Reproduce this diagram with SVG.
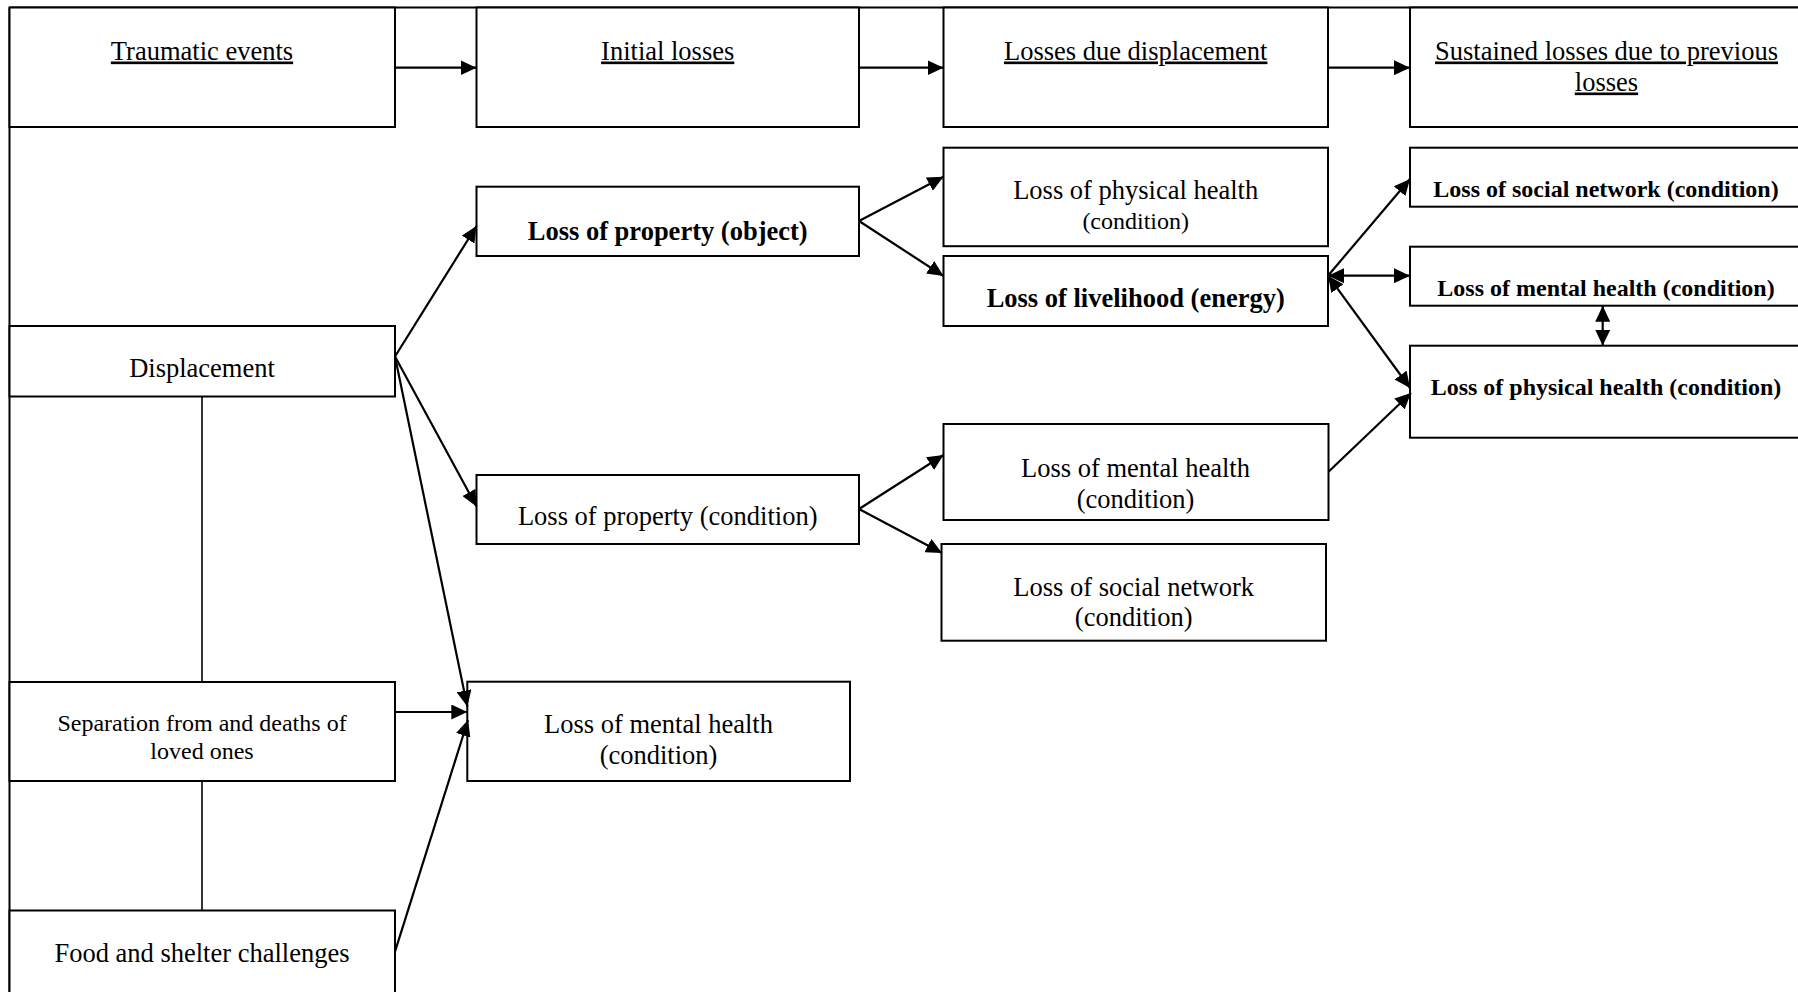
<svg xmlns="http://www.w3.org/2000/svg" width="1798" height="992" viewBox="0 0 1798 992">
<defs>
<style>
.box{fill:#fff;stroke:#000;stroke-width:2}
.frame{fill:none;stroke:#000;stroke-width:2}
.thin{fill:none;stroke:#000;stroke-width:1.6}
.arr{fill:none;stroke:#000;stroke-width:2.2;marker-end:url(#ah)}
.arr2{fill:none;stroke:#000;stroke-width:2.2;marker-end:url(#ah);marker-start:url(#ah)}
text{font-family:"Liberation Serif","Times New Roman",serif;fill:#000;text-anchor:middle}
.t{font-size:26.5px}
.ts{font-size:24px}
.b{font-size:26.5px;font-weight:bold}
.bs{font-size:24px;font-weight:bold}
.u{text-decoration:underline}
</style>
<marker id="ah" markerUnits="userSpaceOnUse" markerWidth="17" markerHeight="15" refX="16" refY="7.5" orient="auto-start-reverse">
<path d="M0,0 L16,7.5 L0,15 z" fill="#000"/>
</marker>
</defs>
<rect width="1798" height="992" fill="#fff"/>
<g id="frame">
<line class="frame" x1="9.5" y1="7.5" x2="1798" y2="7.5"/>
<line class="frame" x1="9.5" y1="7.5" x2="9.5" y2="992"/>
</g>
<g id="traumatic"><rect class="box" x="9.5" y="7.5" width="385.5" height="119.5"/><text class="t u" x="202" y="59.5">Traumatic events</text></g>
<g id="initial"><rect class="box" x="476.5" y="7.5" width="382.5" height="119.5"/><text class="t u" x="667.7" y="59.5">Initial losses</text></g>
<g id="losses-due"><rect class="box" x="943.5" y="7.5" width="384.5" height="119.5"/><text class="t u" x="1135.7" y="59.5">Losses due displacement</text></g>
<g id="sustained"><rect class="box" x="1410" y="7.5" width="400" height="119.5"/><text class="t u" x="1606.5" y="59.5">Sustained losses due to previous</text><text class="t u" x="1606.5" y="90.5">losses</text></g>

<g id="displacement"><rect class="box" x="9.5" y="326" width="385.5" height="70.5"/><text class="t" x="202" y="376.5">Displacement</text></g>
<g id="separation"><rect class="box" x="9.5" y="682" width="385.5" height="99"/><text class="ts" x="202" y="731">Separation from and deaths of</text><text class="ts" x="202" y="758.5">loved ones</text></g>
<g id="food"><rect class="box" x="9.5" y="910.5" width="385.5" height="100"/><text class="t" x="202" y="961.5">Food and shelter challenges</text></g>

<g id="property-object"><rect class="box" x="476.5" y="186.7" width="382.5" height="69.3"/><text class="b" x="667.7" y="239.5">Loss of property (object)</text></g>
<g id="property-condition"><rect class="box" x="476.5" y="475" width="382.5" height="69"/><text class="t" x="667.7" y="525">Loss of property (condition)</text></g>
<g id="mental-initial"><rect class="box" x="467.3" y="681.7" width="382.7" height="99.3"/><text class="t" x="658.5" y="732.5">Loss of mental health</text><text class="t" x="658.5" y="764">(condition)</text></g>

<g id="physical-disp"><rect class="box" x="943.5" y="147.7" width="384.5" height="98.5"/><text class="t" x="1135.7" y="198.5">Loss of physical health</text><text class="ts" x="1135.7" y="228.5">(condition)</text></g>
<g id="livelihood"><rect class="box" x="943.5" y="256" width="384.5" height="70"/><text class="b" x="1135.7" y="306.5">Loss of livelihood (energy)</text></g>
<g id="mental-disp"><rect class="box" x="943.5" y="424" width="385" height="96"/><text class="t" x="1135.5" y="476.5">Loss of mental health</text><text class="t" x="1135.5" y="507.5">(condition)</text></g>
<g id="social-disp"><rect class="box" x="941.5" y="544" width="384.5" height="96.7"/><text class="t" x="1133.7" y="595.5">Loss of social network</text><text class="t" x="1133.7" y="625.5">(condition)</text></g>

<g id="social-sust"><rect class="box" x="1410" y="147.7" width="400" height="59"/><text class="bs" x="1606" y="196.5">Loss of social network (condition)</text></g>
<g id="mental-sust"><rect class="box" x="1410" y="246.7" width="400" height="59"/><text class="bs" x="1606" y="295.5">Loss of mental health (condition)</text></g>
<g id="physical-sust"><rect class="box" x="1410" y="345.7" width="400" height="92"/><text class="bs" x="1606" y="394.5">Loss of physical health (condition)</text></g>

<g id="connectors">
<line class="arr" x1="395" y1="67.7" x2="476.5" y2="67.7"/>
<line class="arr" x1="859" y1="67.7" x2="943.5" y2="67.7"/>
<line class="arr" x1="1328" y1="67.7" x2="1410" y2="67.7"/>
<line class="thin" x1="202" y1="396.5" x2="202" y2="682"/>
<line class="thin" x1="202" y1="781" x2="202" y2="910.5"/>
<line class="arr" x1="395" y1="356.5" x2="476.5" y2="226"/>
<line class="arr" x1="395" y1="356.5" x2="476.5" y2="506.5"/>
<line class="arr" x1="395" y1="356.5" x2="467.3" y2="706.5"/>
<line class="arr" x1="395" y1="712" x2="467.3" y2="712"/>
<line class="arr" x1="395" y1="951.7" x2="468" y2="720"/>
<line class="arr" x1="859" y1="221" x2="943.5" y2="176.7"/>
<line class="arr" x1="859" y1="221" x2="943.5" y2="276"/>
<line class="arr" x1="859" y1="509" x2="943.5" y2="455"/>
<line class="arr" x1="859" y1="509" x2="942" y2="553"/>
<line class="arr" x1="1328" y1="275.7" x2="1410" y2="179"/>
<line class="arr2" x1="1328" y1="275.7" x2="1410" y2="275.7"/>
<line class="arr2" x1="1328" y1="275.7" x2="1410" y2="388"/>
<line class="arr2" x1="1602.7" y1="305.7" x2="1602.7" y2="345.7"/>
<line class="arr" x1="1328.5" y1="471.7" x2="1411" y2="393"/>
</g>
</svg>
